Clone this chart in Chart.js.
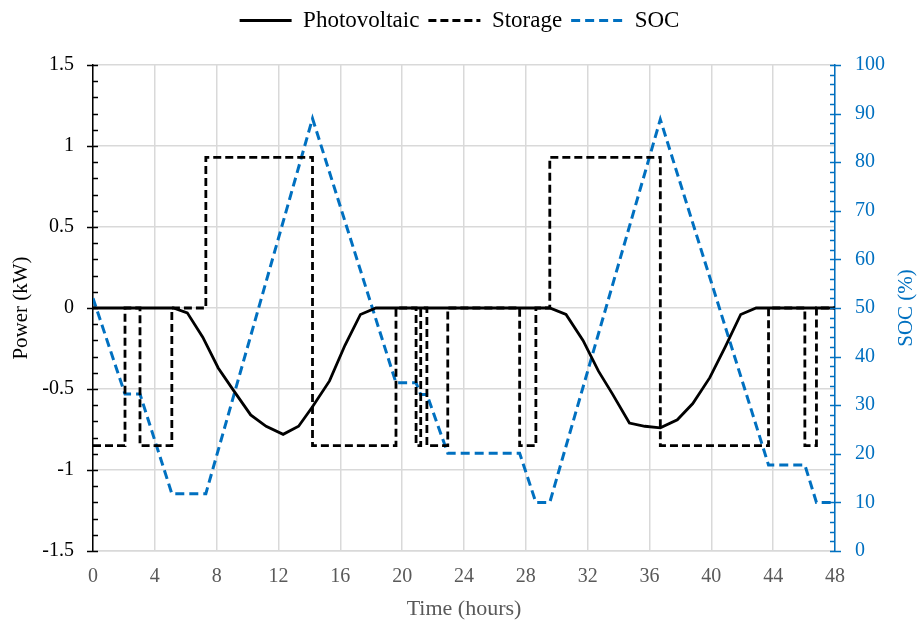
<!DOCTYPE html>
<html>
<head>
<meta charset="utf-8">
<script src="https://cdn.jsdelivr.net/npm/chart.js@4.4.1/dist/chart.umd.min.js"></script>
<style>
  body { margin: 0; background: #fff; }
  #wrap { width: 919px; height: 624px; }
</style>
</head>
<body>
<div id="wrap"><canvas id="chart"></canvas></div>
<script>
// photovoltaic output (kW)
const pvTime = [0, 5.2, 6.1, 7.1, 8.1, 9.1, 10.2, 11.2, 12.3, 13.3, 14.2, 15.3, 16.3, 17.3, 18.3,
  29.55, 30.6, 31.7, 32.7, 33.6, 34.7, 35.7, 36.7, 37.8, 38.8, 39.9, 40.9, 41.9, 42.9, 48];
const pvPower = [0, 0, -0.03, -0.18, -0.37, -0.51, -0.66, -0.73, -0.78, -0.73, -0.61, -0.45, -0.23, -0.04, 0,
  0, -0.04, -0.2, -0.39, -0.53, -0.71, -0.73, -0.74, -0.69, -0.59, -0.43, -0.24, -0.04, 0, 0];

// storage power (kW), step changes
const storageTime = [0, 2.07, 2.07, 3.04, 3.04, 5.1, 5.1, 7.3, 7.3, 14.2, 14.2, 19.6, 19.6,
  20.9, 20.9, 21.2, 21.2, 21.6, 21.6, 22.95, 22.95, 27.6, 27.6, 28.65, 28.65, 29.55, 29.55,
  36.7, 36.7, 43.7, 43.7, 46.05, 46.05, 46.8, 46.8, 48];
const storagePower = [-0.85, -0.85, 0, 0, -0.85, -0.85, 0, 0, 0.93, 0.93, -0.85, -0.85, 0,
  0, -0.85, -0.85, 0, 0, -0.85, -0.85, 0, 0, -0.85, -0.85, 0, 0, 0.93,
  0.93, -0.85, -0.85, 0, 0, -0.85, -0.85, 0, 0];

// state of charge (%)
const socTime = [0, 2.07, 3.04, 5.1, 7.3, 14.2, 19.6, 20.9, 21.2, 21.6, 22.95, 27.6, 28.65, 29.55,
  36.7, 43.7, 46.05, 46.8, 48];
const socValue = [52, 32.3, 32.3, 11.8, 11.8, 89, 34.6, 34.6, 32.2, 32.2, 20.1, 20.1, 10, 10,
  88.8, 17.7, 17.7, 10, 10];

const blue = '#0070C0';
const serif = 'Liberation Serif';

function toPoints(xs, ys) {
  return xs.map((x, i) => ({ x: x, y: ys[i] }));
}

// leave room between the legend and the plot
const legendGap = {
  id: 'legendGap',
  beforeInit(chart) {
    const fit = chart.legend.fit;
    chart.legend.fit = function () {
      fit.call(this);
      this.height += 23;
    };
  }
};

// minor / crossing tick marks on both value axes, plus the right title read bottom to top
const axisMarks = {
  id: 'axisMarks',
  afterDraw(chart) {
    const ctx = chart.ctx;
    const yl = chart.scales.y;
    const yr = chart.scales.y1;
    ctx.save();
    ctx.lineWidth = 1.5;
    ctx.strokeStyle = '#000';
    for (let i = -15; i <= 15; i++) {
      const y = Math.round(yl.getPixelForValue(i / 10)) + 0.5;
      const major = i % 5 === 0;
      ctx.beginPath();
      ctx.moveTo(yl.right - (major ? 6 : 0), y);
      ctx.lineTo(yl.right + 5, y);
      ctx.stroke();
    }
    ctx.strokeStyle = blue;
    for (let v = 0; v <= 100; v += 2) {
      const y = Math.round(yr.getPixelForValue(v)) + 0.5;
      const major = v % 10 === 0;
      ctx.beginPath();
      ctx.moveTo(yr.left - 5, y);
      ctx.lineTo(yr.left + (major ? 6 : 0), y);
      ctx.stroke();
    }
    ctx.fillStyle = blue;
    ctx.font = '21px "' + serif + '"';
    ctx.textAlign = 'center';
    ctx.textBaseline = 'middle';
    ctx.translate(906, (chart.chartArea.top + chart.chartArea.bottom) / 2);
    ctx.rotate(-Math.PI / 2);
    ctx.fillText('SOC (%)', 0, 0);
    ctx.restore();
  }
};

const plainNumber = v => String(Number(Number(v).toFixed(1)));

new Chart(document.getElementById('chart'), {
  type: 'line',
  data: {
    datasets: [{
      label: 'Photovoltaic',
      data: toPoints(pvTime, pvPower),
      borderColor: '#000',
      backgroundColor: '#000',
      borderWidth: 2.8,
      yAxisID: 'y'
    }, {
      label: 'Storage',
      data: toPoints(storageTime, storagePower),
      borderColor: '#000',
      backgroundColor: '#000',
      borderWidth: 2.8,
      borderDash: [8, 4],
      yAxisID: 'y'
    }, {
      label: 'SOC',
      data: toPoints(socTime, socValue),
      borderColor: blue,
      backgroundColor: blue,
      borderWidth: 3,
      borderDash: [9, 5],
      yAxisID: 'y1'
    }]
  },
  options: {
    responsive: true,
    maintainAspectRatio: false,
    animation: false,
    elements: {
      point: { radius: 0 },
      line: { tension: 0 }
    },
    layout: { padding: { top: 0, left: 0, right: 0, bottom: 0 } },
    plugins: {
      tooltip: { enabled: false },
      legend: {
        position: 'top',
        labels: {
          usePointStyle: true,
          pointStyle: 'line',
          pointStyleWidth: 52,
          color: '#000',
          padding: 9,
          font: { family: serif, size: 23 },
          generateLabels(chart) {
            const items = Chart.defaults.plugins.legend.labels.generateLabels(chart);
            items.forEach(item => {
              const ds = chart.data.datasets[item.datasetIndex];
              item.lineDash = ds.borderDash || [];
              item.lineWidth = ds.borderWidth;
              item.strokeStyle = ds.borderColor;
            });
            return items;
          }
        }
      }
    },
    scales: {
      x: {
        type: 'linear',
        min: 0,
        max: 48,
        ticks: { stepSize: 4, color: '#595959', padding: 14, font: { family: serif, size: 20 } },
        grid: { color: '#D9D9D9', lineWidth: 1.5, drawTicks: false },
        border: { color: '#D9D9D9', width: 1.5 },
        title: { display: true, text: 'Time (hours)', color: '#595959', padding: { top: 4, bottom: 2 }, font: { family: serif, size: 22 } },
        afterFit(s) { s.height = 73; }
      },
      y: {
        position: 'left',
        min: -1.5,
        max: 1.5,
        ticks: { stepSize: 0.5, color: '#000', padding: 19, callback: plainNumber, font: { family: serif, size: 20 } },
        grid: { color: '#D9D9D9', lineWidth: 1.5, drawTicks: false },
        border: { color: '#000', width: 1.5 },
        title: { display: true, text: 'Power (kW)', color: '#000', padding: { top: 9, bottom: 0 }, font: { family: serif, size: 21 } },
        afterFit(s) { s.width = 93; }
      },
      y1: {
        position: 'right',
        min: 0,
        max: 100,
        ticks: { stepSize: 10, color: blue, padding: 20, font: { family: serif, size: 20 } },
        grid: { drawOnChartArea: false, drawTicks: false },
        border: { color: blue, width: 1.5 },
        afterFit(s) { s.width = 84; }
      }
    }
  },
  plugins: [legendGap, axisMarks]
});
</script>
</body>
</html>
